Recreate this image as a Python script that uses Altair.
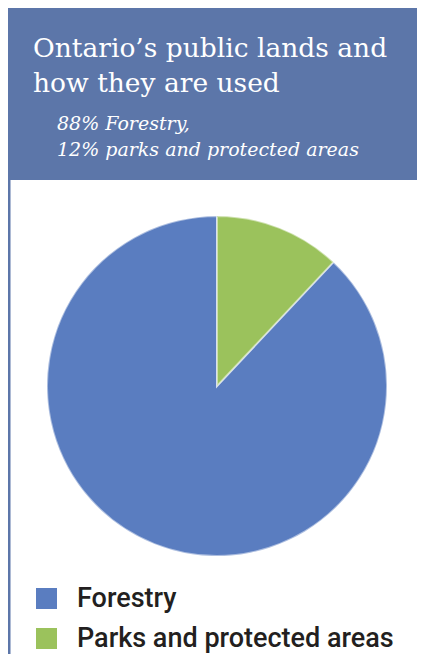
import altair as alt
import pandas as pd

categories = ["Forestry", "Parks and protected areas"]
values = [88, 12]
colors = ["#5A7DC0", "#9BC25C"]
title_lines = ["Ontario\u2019s public lands and", "how they are used"]
subtitle_lines = ["88% Forestry,", "12% parks and protected areas"]

HEADER = "#5C76A9"
W, H = 409, 646

df = pd.DataFrame({"category": categories, "value": values})
one = alt.Data(values=[{}])

header = alt.Chart(one).mark_rect(color=HEADER).encode(
    x=alt.value(0), x2=alt.value(W), y=alt.value(0), y2=alt.value(172)
)
sidebar = alt.Chart(one).mark_rect(color=HEADER).encode(
    x=alt.value(0), x2=alt.value(2.5), y=alt.value(170), y2=alt.value(H)
)
title = alt.Chart(one).mark_text(
    align="left", baseline="alphabetic", font="DejaVu Serif", fontSize=26.5,
    color="white", lineHeight=35
).encode(x=alt.value(25), y=alt.value(49), text=alt.value(title_lines))
subtitle = alt.Chart(one).mark_text(
    align="left", baseline="alphabetic", font="DejaVu Serif", fontSize=19,
    fontStyle="italic", color="white", lineHeight=26
).encode(x=alt.value(49), y=alt.value(122), text=alt.value(subtitle_lines))

pie = alt.Chart(df).mark_arc(
    outerRadius=170, stroke="white", strokeWidth=2, strokeOpacity=0.5
).encode(
    theta=alt.Theta("value:Q", stack=True),
    order=alt.Order("category:N", sort="descending"),
    color=alt.Color(
        "category:N",
        scale=alt.Scale(domain=categories, range=colors),
        legend=alt.Legend(
            orient="none", legendX=25, legendY=577, title=None,
            symbolType="square", symbolSize=441, symbolStrokeWidth=0,
            symbolOpacity=1, labelFontSize=27, labelFontWeight=500,
            labelFont="Liberation Sans Narrow, Roboto, sans-serif",
            labelColor="#231F20", labelOffset=17, rowPadding=12,
            labelLimit=400,
        ),
    ),
    x=alt.value(209),
    y=alt.value(378),
)

chart = alt.layer(header, sidebar, title, subtitle, pie).properties(
    width=W, height=H, autosize=alt.AutoSizeParams(type="none"), padding=0,
    background="white"
).configure_view(stroke=None)

chart.save("out.html", embed_options={"renderer": "svg", "actions": False})
